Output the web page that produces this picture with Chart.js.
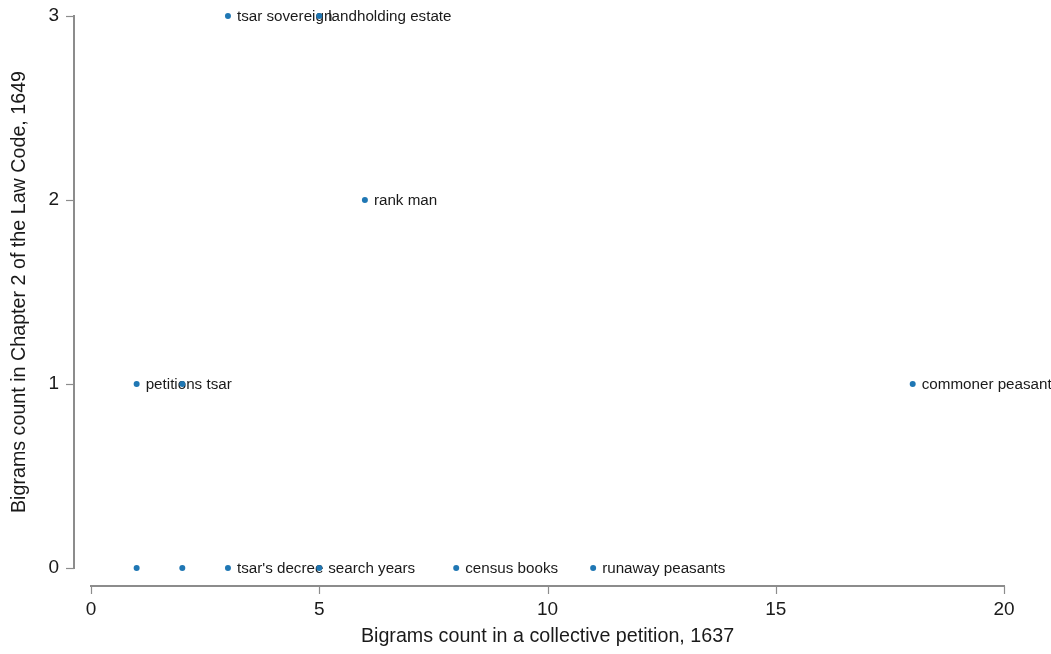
<!DOCTYPE html>
<html>
<head>
<meta charset="utf-8">
<style>
  html, body { margin: 0; padding: 0; background: #fff; }
  #wrap { width: 1051px; height: 654px; }
</style>
<script src="https://cdn.jsdelivr.net/npm/chart.js@4/dist/chart.umd.min.js"></script>
</head>
<body>
<div id="wrap"><canvas id="c" width="1051" height="654"></canvas></div>
<script>
// Bigram counts: collective petition (1637) vs. Chapter 2 of the Law Code (1649)
const petitionCounts = [3, 5, 6, 1, 2, 18, 1, 2, 3, 5, 8, 11];
const lawCodeCounts  = [3, 3, 2, 1, 1, 1, 0, 0, 0, 0, 0, 0];
const bigramLabels = [
  'tsar sovereign', 'landholding estate', 'rank man', 'petitions tsar', '',
  'commoner peasants', '', '', "tsar's decree", 'search years', 'census books',
  'runaway peasants'
];
const xTicks = [0, 5, 10, 15, 20];
const yTicks = [0, 1, 2, 3];

const FONT = '"Liberation Sans", Arial, sans-serif';
const AXIS_COLOR = '#8c8c8c';
const TEXT_COLOR = '#1a1a1a';
const DOT_COLOR = '#1f77b4';

const points = petitionCounts.map((x, i) => ({ x, y: lawCodeCounts[i] }));

// Detached axis lines with outward tick marks, in the style of base R plots
const detachedAxes = {
  id: 'detachedAxes',
  afterDraw(chart) {
    const { ctx, scales: { x, y } } = chart;
    ctx.save();
    ctx.strokeStyle = AXIS_COLOR;
    ctx.lineCap = 'butt';

    // y axis
    const yLineX = 74;
    ctx.lineWidth = 2;
    ctx.beginPath();
    ctx.moveTo(yLineX, y.getPixelForValue(yTicks[yTicks.length - 1]) - 1);
    ctx.lineTo(yLineX, y.getPixelForValue(yTicks[0]) + 1);
    ctx.stroke();
    ctx.lineWidth = 1.2;
    yTicks.forEach(v => {
      const py = Math.round(y.getPixelForValue(v)) + 0.5;
      ctx.beginPath();
      ctx.moveTo(yLineX, py);
      ctx.lineTo(yLineX - 8, py);
      ctx.stroke();
    });

    // x axis
    const xLineY = 586;
    ctx.lineWidth = 2;
    ctx.beginPath();
    ctx.moveTo(x.getPixelForValue(xTicks[0]) - 1, xLineY);
    ctx.lineTo(x.getPixelForValue(xTicks[xTicks.length - 1]) + 1, xLineY);
    ctx.stroke();
    ctx.lineWidth = 1.2;
    xTicks.forEach(v => {
      const px = Math.round(x.getPixelForValue(v)) + 0.5;
      ctx.beginPath();
      ctx.moveTo(px, xLineY);
      ctx.lineTo(px, xLineY + 8);
      ctx.stroke();
    });
    ctx.restore();
  }
};

// Bigram names written to the right of each point
const pointLabels = {
  id: 'pointLabels',
  beforeDatasetsDraw(chart) {
    const { ctx } = chart;
    const meta = chart.getDatasetMeta(0);
    ctx.save();
    ctx.font = '15.2px ' + FONT;
    ctx.fillStyle = TEXT_COLOR;
    ctx.textAlign = 'left';
    ctx.textBaseline = 'middle';
    meta.data.forEach((el, i) => {
      const txt = bigramLabels[i];
      if (txt) ctx.fillText(txt, el.x + 9, el.y + 1);
    });
    ctx.restore();
  }
};

new Chart(document.getElementById('c'), {
  type: 'scatter',
  data: {
    datasets: [{
      data: points,
      backgroundColor: DOT_COLOR,
      borderColor: DOT_COLOR,
      borderWidth: 0,
      pointRadius: 3,
      pointHoverRadius: 3,
      clip: false
    }]
  },
  options: {
    responsive: false,
    animation: false,
    events: [],
    layout: { padding: { top: 16, right: 47, left: 0, bottom: 0 } },
    plugins: {
      legend: { display: false },
      tooltip: { enabled: false }
    },
    scales: {
      x: {
        type: 'linear',
        min: 0,
        max: 20,
        afterBuildTicks: s => { s.ticks = xTicks.map(v => ({ value: v })); },
        afterFit: s => { s.height = 86; s.paddingLeft = 0; s.paddingRight = 0; },
        grid: { display: false, drawTicks: false },
        border: { display: false },
        ticks: {
          padding: 30,
          color: TEXT_COLOR,
          font: { family: FONT, size: 19 },
          maxRotation: 0
        },
        title: {
          display: true,
          text: 'Bigrams count in a collective petition, 1637',
          color: TEXT_COLOR,
          font: { family: FONT, size: 19.7 },
          padding: { top: 0, bottom: 6 }
        }
      },
      y: {
        type: 'linear',
        min: 0,
        max: 3,
        afterBuildTicks: s => { s.ticks = yTicks.map(v => ({ value: v })); },
        afterFit: s => { s.width = 91; s.paddingTop = 0; s.paddingBottom = 0; },
        grid: { display: false, drawTicks: false },
        border: { display: false },
        ticks: {
          padding: 32,
          color: TEXT_COLOR,
          font: { family: FONT, size: 19 }
        },
        title: {
          display: true,
          text: 'Bigrams count in Chapter 2 of the Law Code, 1649',
          color: TEXT_COLOR,
          font: { family: FONT, size: 19.7 },
          padding: { top: 8, bottom: 0 }
        }
      }
    }
  },
  plugins: [detachedAxes, pointLabels]
});
</script>
</body>
</html>
